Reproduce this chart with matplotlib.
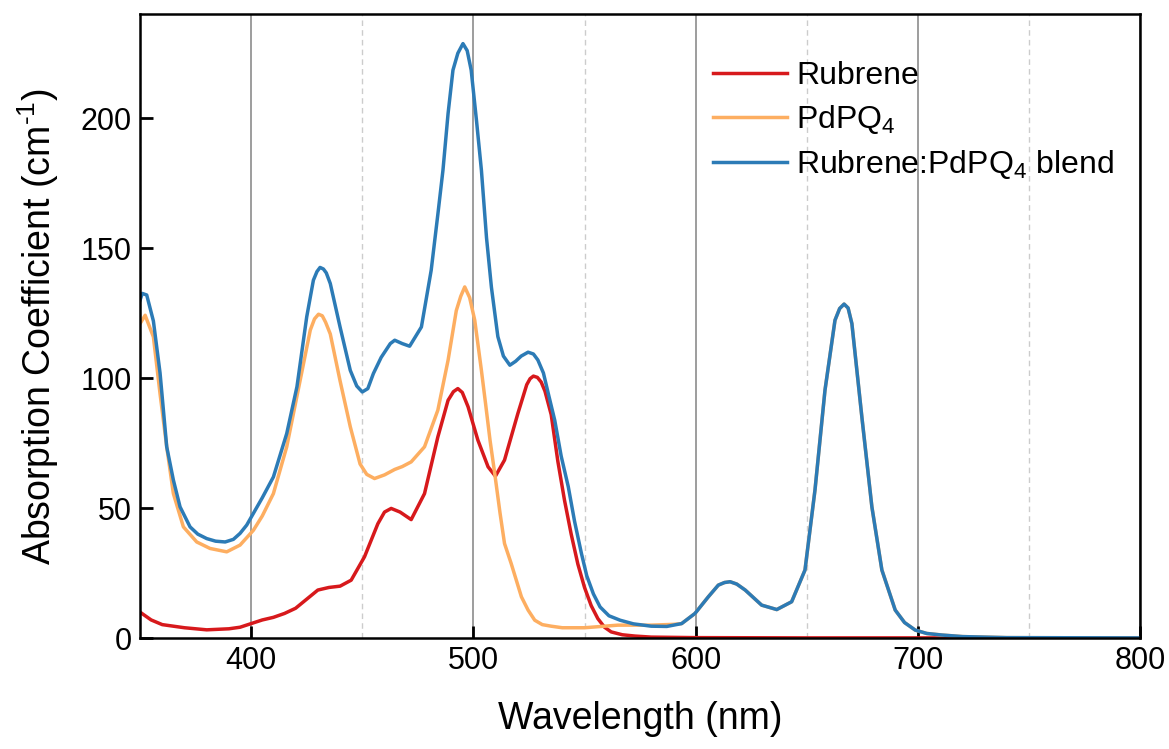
import matplotlib
matplotlib.use("Agg")
import matplotlib.pyplot as plt
from matplotlib.ticker import MultipleLocator

plt.rcParams['font.family'] = ['Liberation Sans', 'DejaVu Sans']
plt.rcParams['mathtext.fontset'] = 'custom'
plt.rcParams['mathtext.rm'] = 'Liberation Sans'
plt.rcParams['mathtext.it'] = 'Liberation Sans:italic'

# Rubrene
rub_wl = [350, 355, 360, 370, 380, 390, 395, 400, 405, 410, 415, 420, 425, 430, 435, 440,
          445, 451, 457, 460, 463, 467, 472, 478, 484, 488.6, 491, 493, 495, 497.6, 502, 506.6,
          509.9, 514, 520, 524, 525.5, 527, 528.8, 530.5, 532.2, 535, 538, 541, 544, 547, 550, 553,
          556, 559, 562, 567, 572.7, 580, 600, 650, 700, 750, 800]
rub_abs = [10, 7, 5.2, 4, 3.2, 3.6, 4.2, 5.6, 7, 8, 9.5, 11.5, 15, 18.5, 19.5, 20,
           22.3, 31.3, 44, 48.5, 49.9, 48.5, 45.6, 55.6, 77.4, 91.5, 94.8, 96, 94.5, 89, 76.2, 65.9,
           62.3, 68.5, 86.4, 97.5, 99.8, 100.8, 100.3, 98.5, 95, 86, 68, 53, 40, 28.5, 19.5, 12.5,
           7.5, 4.2, 2.4, 1.3, 0.8, 0.4, 0.2, 0.1, 0.1, 0.1, 0.1]

# PdPQ4
pd_wl = [350, 352.3, 356, 359, 362, 365, 369.5, 375.5, 381.5, 389, 395, 401, 405, 410, 416, 422,
         426.6, 428.5, 430.3, 432, 433.5, 435.6, 440, 444.6, 449, 452, 455.5, 460, 464.6, 468, 472, 478,
         484, 488.6, 492.3, 494.3, 496.1, 498.3, 500.6, 503.6, 505.5, 507.5, 509.6, 512, 514, 517, 521.6, 524.6,
         527.6, 531, 535, 540, 550, 565, 580, 590, 593.7, 599.7, 605.7, 610.2, 613, 615.5, 618.5, 622.3,
         629.7, 636.5, 643.2, 649.2, 653.7, 658.2, 662.7, 664.8, 666.8, 668.6, 670.3, 674.8, 679.3, 683.8, 689.8, 694,
         698.8, 704, 710.8, 720, 740, 800]
pd_abs = [121, 124.2, 115.9, 94, 73.6, 55.6, 42.8, 37, 34.5, 33.2, 35.8, 41.5, 47, 55.6, 73.6, 99,
          118.5, 122.8, 124.6, 124, 121.5, 117, 99, 81.3, 67, 63, 61.4, 62.8, 64.9, 66, 67.8, 73.6,
          87.7, 106.9, 126, 131.5, 135.1, 131, 122.3, 103, 90, 76, 63.3, 48, 36.4, 28.7, 15.9, 10.8,
          6.9, 5.2, 4.6, 4, 4, 5, 5, 5.3, 5.6, 9.5, 15.9, 20.4, 21.4, 21.7, 20.8, 18.5,
          12.7, 11, 14, 26.2, 57, 95.4, 122.3, 126.8, 128.5, 127, 121, 85, 50.5, 26.2, 10.8, 6,
          3.1, 1.8, 1.2, 0.6, 0.2, 0.1]

# Rubrene:PdPQ4 blend
bl_wl = [350, 351, 353, 356, 359, 362, 365, 368, 372.5, 376, 380, 384, 388.3, 392, 395, 398,
         401, 405, 410, 416, 420.6, 425, 428, 429.6, 431, 432.5, 433.8, 435.6, 440, 444.6, 447.5, 450,
         452.5, 455, 458.5, 462.6, 464.6, 468, 471.3, 476.6, 481, 484, 486.3, 488.6, 490.8, 493, 495.3, 497.2,
         499, 501.4, 503.6, 505.9, 508.1, 511, 513.5, 516.4, 519, 521.5, 524.6, 527, 529, 531.5, 534, 536.6,
         539.5, 542.7, 545.5, 548.6, 551, 554, 557, 561, 566, 572, 580, 587, 593.7, 599.7, 605.7, 610.2,
         613, 615.5, 618.5, 622.3, 629.7, 636.5, 643.2, 649.2, 653.7, 658.2, 662.7, 664.8, 666.8, 668.6, 670.3, 674.8,
         679.3, 683.8, 689.8, 694, 698.8, 704, 710.8, 720, 740, 800]
bl_abs = [130, 132.6, 132, 122, 102, 73.6, 60.8, 50.5, 42.8, 40, 38.3, 37.3, 37, 38, 40.3, 43.5,
          48, 54, 62, 78.7, 96.7, 123.6, 137.7, 141, 142.6, 142, 140.5, 136.4, 119.7, 103, 97, 94.7,
          96, 101.8, 108, 113.3, 114.6, 113.3, 112.3, 119.7, 141.5, 163, 180, 201.8, 218.5, 225, 228.7, 226,
          218.5, 199, 180, 154, 135, 116, 108.5, 105, 106.5, 108.5, 110, 109.3, 107, 102, 93, 83.8,
          70, 58.2, 45, 32.6, 24, 17, 12, 8.6, 6.9, 5.5, 4.6, 4.5, 5.6, 9.5, 15.9, 20.4,
          21.4, 21.7, 20.8, 18.5, 12.7, 11, 14, 26.2, 57, 95.4, 122.3, 126.8, 128.5, 127, 121, 85,
          50.5, 26.2, 10.8, 6, 3.1, 1.8, 1.2, 0.6, 0.2, 0.1]

labels = ['Rubrene', 'PdPQ$_4$', 'Rubrene:PdPQ$_4$ blend']
colors = ['#d7191c', '#fdae61', '#2c7bb6']

fig = plt.figure(figsize=(11.69, 7.49), dpi=100)
ax = fig.add_axes([0.1198, 0.148, 0.8555, 0.833])

for wl, ab, lab, col in zip([rub_wl, pd_wl, bl_wl], [rub_abs, pd_abs, bl_abs], labels, colors):
    ax.plot(wl, ab, color=col, lw=2.5, label=lab, solid_joinstyle='round')

ax.set_xlim(350, 800)
ax.set_ylim(0, 240)
ax.xaxis.set_minor_locator(MultipleLocator(50))
ax.yaxis.set_major_locator(MultipleLocator(50))
ax.set_xticks([400, 500, 600, 700, 800])

ax.grid(True, which='major', axis='x', color='#8c8c8c', lw=1.2, ls='-')
ax.grid(True, which='minor', axis='x', color='#cccccc', lw=1.0, ls=(0, (4, 3)))
ax.set_axisbelow(True)

ax.tick_params(axis='both', which='major', direction='in', length=9, width=2,
               labelsize=22, pad=6, top=False, right=False)
ax.tick_params(axis='both', which='minor', length=0)
for sp in ax.spines.values():
    sp.set_linewidth(1.8)

ax.set_xlabel('Wavelength (nm)', fontsize=27, labelpad=18)
ax.set_ylabel('Absorption Coefficient (cm$^{\\text{-}1}$)', fontsize=27, labelpad=14)

ax.legend(loc='upper left', bbox_to_anchor=(0.61, 0.918), bbox_transform=fig.transFigure,
          frameon=False, fontsize=23, borderpad=0, borderaxespad=0,
          handlelength=2.3, handletextpad=0.3, labelspacing=0.37)

fig.savefig('out.png', dpi=100)
